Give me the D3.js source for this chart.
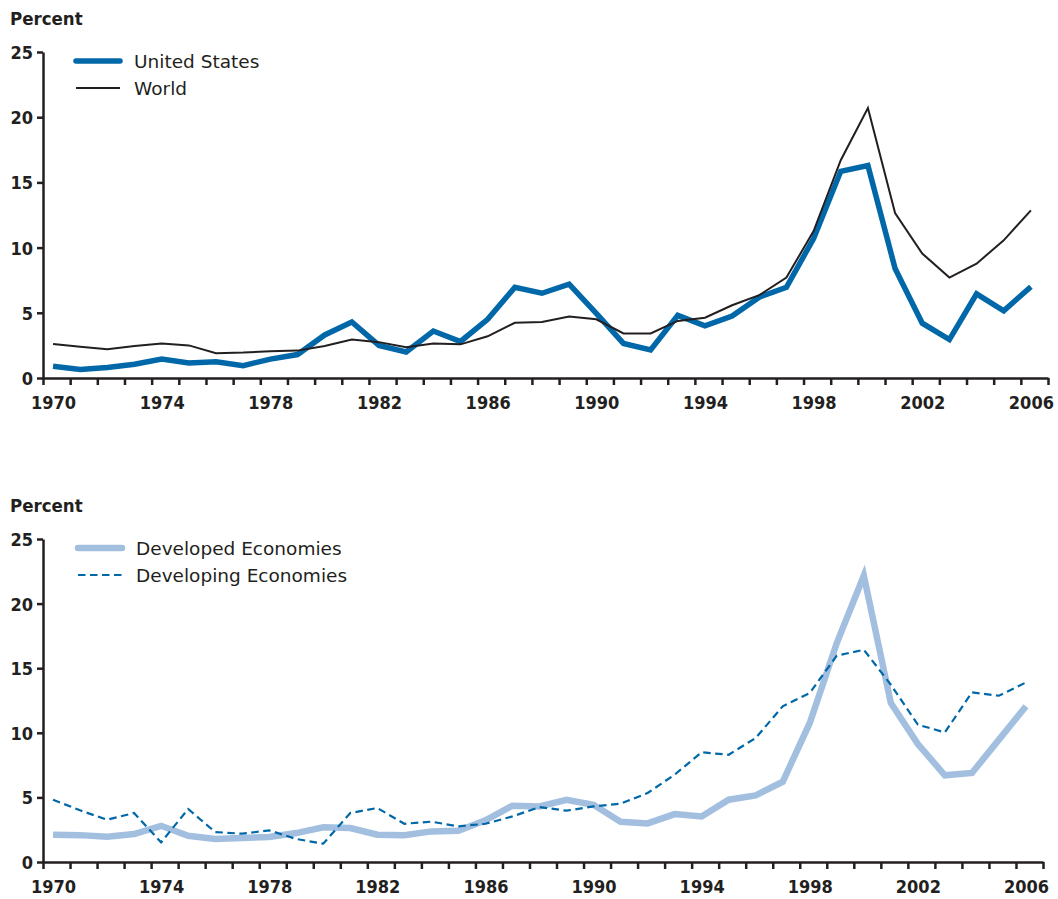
<!DOCTYPE html>
<html>
<head>
<meta charset="utf-8">
<script src="https://cdn.jsdelivr.net/npm/d3@7/dist/d3.min.js"></script>
<style>
  body { margin: 0; background: #fff; }
  svg { display: block; font-family: "DejaVu Sans", sans-serif; }
  .axis path, .axis line { stroke: #231f20; stroke-width: 2.5; }
  .axis text { font-family: "DejaVu Sans Condensed", "DejaVu Sans", sans-serif; font-size: 18px; font-weight: bold; fill: #231f20; }
  .legend text { font-family: "DejaVu Sans", sans-serif; font-size: 18.5px; fill: #231f20; }
  .ylab { font-family: "DejaVu Sans Condensed", "DejaVu Sans", sans-serif; font-size: 18.5px; font-weight: bold; fill: #231f20; }
</style>
</head>
<body>
<div id="chart"></div>
<script>
// data
const years = d3.range(1970, 2007);
const unitedStates = [0.9, 0.65, 0.8, 1.05, 1.45, 1.15, 1.25, 0.95, 1.45, 1.8, 3.3, 4.3,
  2.5, 2.0, 3.6, 2.8, 4.5, 6.95, 6.5, 7.2, 4.95, 2.65, 2.15, 4.8,
  4.0, 4.75, 6.2, 6.95, 10.7, 15.85, 16.3, 8.4, 4.2, 2.95, 6.45, 5.15, 7.0];
const world = [2.6, 2.4, 2.2, 2.45, 2.65, 2.5, 1.9, 1.95, 2.05, 2.1, 2.45, 2.95,
  2.75, 2.35, 2.65, 2.58, 3.2, 4.23, 4.3, 4.72, 4.5, 3.42, 3.42, 4.38,
  4.62, 5.58, 6.35, 7.7, 11.27, 16.7, 20.7, 12.65, 9.55, 7.7, 8.77, 10.56, 12.85];
const developed = [2.11, 2.08, 1.96, 2.16, 2.8, 2.03, 1.78, 1.86, 1.93, 2.24, 2.68, 2.63,
  2.11, 2.08, 2.37, 2.42, 3.22, 4.36, 4.3, 4.82, 4.43, 3.12, 2.99, 3.71,
  3.53, 4.82, 5.16, 6.21, 10.76, 16.95, 22.16, 12.3, 9.13, 6.71, 6.89, 9.47, 12.05];
const developing = [4.82, 4.0, 3.27, 3.79, 1.52, 4.1, 2.32, 2.19, 2.45, 1.78, 1.42, 3.79,
  4.18, 2.96, 3.12, 2.76, 2.96, 3.53, 4.25, 3.97, 4.3, 4.51, 5.34, 6.76,
  8.49, 8.3, 9.6, 12.05, 13.08, 15.97, 16.43, 13.72, 10.63, 10.03, 13.13, 12.87, 13.9];
const yTicks = [0, 5, 10, 15, 20, 25];
const xLabels = [1970, 1974, 1978, 1982, 1986, 1990, 1994, 1998, 2002, 2006];

const width = 1058, height = 899;
const svg = d3.select("#chart").append("svg")
  .attr("width", width)
  .attr("height", height);

// one panel = two series + axes + legend
function drawPanel(p) {
  const x = d3.scaleLinear().domain([1969.63, 2006.63]).range([43, p.right]);
  const y = d3.scaleLinear().domain([0, 25]).range([p.bottom, p.top]);
  const g = svg.append("g");

  g.append("text")
    .attr("class", "ylab")
    .attr("x", 10)
    .attr("y", p.top - 27)
    .text("Percent");

  // y axis
  g.append("g")
    .attr("class", "axis")
    .attr("transform", `translate(43,0)`)
    .call(d3.axisLeft(y).tickValues(yTicks).tickSize(6).tickSizeOuter(0).tickPadding(4))
    .call(a => a.selectAll("text").attr("dy", "0.36em"));

  // x axis: small ticks between years
  const tickPos = d3.range(0, 38).map(k => 1969.63 + k);
  g.append("g")
    .attr("class", "axis")
    .attr("transform", `translate(0,${p.bottom})`)
    .call(d3.axisBottom(x).tickValues(tickPos).tickSize(7).tickSizeOuter(0).tickFormat(""));

  // x labels centred on the years
  g.append("g")
    .attr("class", "axis")
    .attr("transform", `translate(0,${p.bottom})`)
    .call(d3.axisBottom(x).tickValues(xLabels).tickSize(0).tickPadding(18).tickFormat(d3.format("d")))
    .call(a => a.select(".domain").remove());

  const line = d3.line()
    .x((d, i) => x(years[i]))
    .y(d => y(d));

  p.series.forEach(s => {
    g.append("path")
      .datum(s.values)
      .attr("fill", "none")
      .attr("stroke", s.color)
      .attr("stroke-width", s.width)
      .attr("stroke-dasharray", s.dash || null)
      .attr("stroke-linejoin", "miter")
      .attr("d", line);
  });

  const leg = g.append("g").attr("class", "legend");
  p.series.forEach((s, i) => {
    const ly = p.top + 9 + i * 27;
    leg.append("line")
      .attr("x1", p.legX)
      .attr("x2", p.legX + 44)
      .attr("y1", ly)
      .attr("y2", ly)
      .attr("stroke", s.color)
      .attr("stroke-width", s.width)
      .attr("stroke-linecap", s.cap || "butt")
      .attr("stroke-dasharray", s.dash || null);
    leg.append("text")
      .attr("x", p.legX + 58)
      .attr("y", ly)
      .attr("dy", "0.36em")
      .text(s.name);
  });
}

drawPanel({
  top: 52, bottom: 378, right: 1048, legX: 76,
  series: [
    { name: "United States", values: unitedStates, color: "#0068a8", width: 5.5, cap: "round" },
    { name: "World", values: world, color: "#231f20", width: 2 }
  ]
});

drawPanel({
  top: 539, bottom: 862, right: 1043, legX: 78,
  series: [
    { name: "Developed Economies", values: developed, color: "#a3bfe0", width: 6.5, cap: "round" },
    { name: "Developing Economies", values: developing, color: "#0068a8", width: 2.2, dash: "7.5,4.5" }
  ]
});
</script>
</body>
</html>
